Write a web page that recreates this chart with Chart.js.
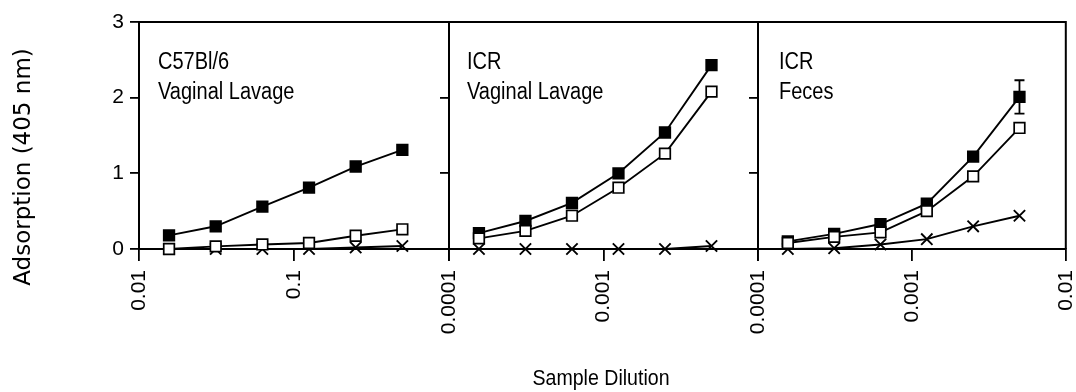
<!DOCTYPE html>
<html><head><meta charset="utf-8">
<script src="https://cdn.jsdelivr.net/npm/chart.js@4/dist/chart.umd.min.js"></script>
<style>
html,body{margin:0;padding:0;background:#fff;overflow:hidden;width:1076px;height:392px;position:relative;}
canvas{position:absolute;left:0;top:0;}
.lbl{position:absolute;font-family:'Liberation Sans',Arial,sans-serif;font-size:23px;line-height:30px;color:#000;white-space:nowrap;transform:scaleX(0.87);transform-origin:0 0;}
#xtitle{position:absolute;left:451px;top:366px;width:300px;text-align:center;font-family:'Liberation Sans',Arial,sans-serif;font-size:22px;line-height:24px;color:#000;transform:scaleX(0.89);}
#ytitle{position:absolute;left:-128px;top:155px;width:300px;text-align:center;font-family:'DejaVu Sans',sans-serif;font-size:23px;line-height:24px;color:#000;transform:rotate(-90deg);}
</style></head><body>
<canvas id="c1" width="1100" height="392"></canvas>
<canvas id="c2" width="1100" height="392"></canvas>
<canvas id="c3" width="1100" height="392"></canvas>
<div class="lbl" style="left:158px;top:46px;">C57Bl/6<br>Vaginal Lavage</div>
<div class="lbl" style="left:467px;top:46px;">ICR<br>Vaginal Lavage</div>
<div class="lbl" style="left:779px;top:46px;">ICR<br>Feces</div>
<div id="xtitle">Sample Dilution</div>
<div id="ytitle">Adsorption (405 nm)</div>
<script>
// ---- data ----
const dilutionLow = [1/64, 1/32, 1/16, 1/8, 1/4, 1/2];
const dilutionHigh = [1/6400, 1/3200, 1/1600, 1/800, 1/400, 1/200];

const c57LavageFilled = [0.18, 0.30, 0.56, 0.81, 1.09, 1.31];
const c57LavageOpen   = [0.00, 0.035, 0.06, 0.08, 0.175, 0.26];
const c57LavageCross  = [0.00, 0.00, 0.00, 0.00, 0.02, 0.04];

const icrLavageFilled = [0.21, 0.37, 0.61, 1.00, 1.54, 2.43];
const icrLavageOpen   = [0.14, 0.24, 0.44, 0.81, 1.26, 2.08];
const icrLavageCross  = [0.00, 0.00, 0.00, 0.00, 0.00, 0.04];

const icrFecesFilled = [0.10, 0.20, 0.33, 0.60, 1.22, 2.01];
const icrFecesOpen   = [0.08, 0.16, 0.22, 0.50, 0.96, 1.60];
const icrFecesCross  = [0.00, 0.01, 0.06, 0.13, 0.30, 0.44];
const icrFecesFilledErr = [0, 0, 0, 0, 0, 0.22];

const xTickValuesLow = [0.01, 0.1, 1];
const xTickLabelsLow = ['0.01', '0.1', ''];
const xTickValuesHigh = [0.0001, 0.001, 0.01];
const xTickLabelsPanel2 = ['0.0001', '0.001', ''];
const xTickLabelsPanel3 = ['0.0001', '0.001', '0.01'];
const yTickValues = [0, 1, 2, 3];

// ---- drawing ----
const FONT = "'Liberation Sans', Arial, sans-serif";
const CW = 1100;

const framePlugin = {
  id: 'frame',
  beforeDatasetsDraw(chart) {
    const {ctx, chartArea: a} = chart;
    ctx.save();
    ctx.strokeStyle = '#000';
    ctx.lineWidth = 2;
    ctx.beginPath();
    ctx.moveTo(a.left, a.top);
    ctx.lineTo(a.right, a.top);
    ctx.lineTo(a.right, a.bottom);
    ctx.stroke();
    ctx.restore();
  }
};

function errPlugin(dsIndex, vals, errs) {
  return {
    id: 'err' + dsIndex,
    beforeDatasetsDraw(chart) {
      if (!errs) return;
      const meta = chart.getDatasetMeta(dsIndex);
      const ys = chart.scales.y;
      const ctx = chart.ctx;
      ctx.save();
      ctx.strokeStyle = '#000';
      ctx.lineWidth = 1.8;
      errs.forEach((e, i) => {
        if (!e) return;
        const x = meta.data[i].x;
        const yt = ys.getPixelForValue(vals[i] + e);
        const yb = ys.getPixelForValue(vals[i] - e);
        ctx.beginPath();
        ctx.moveTo(x, yt); ctx.lineTo(x, yb);
        ctx.moveTo(x - 5, yt); ctx.lineTo(x + 5, yt);
        ctx.moveTo(x - 5, yb); ctx.lineTo(x + 5, yb);
        ctx.stroke();
      });
      ctx.restore();
    }
  };
}

function pts(xs, ys) { return xs.map((x, i) => ({x: x, y: ys[i]})); }

function makePanel(id, xs, filled, open, cross, tickValues, tickLabels, left, right, yWidth, showYLabels, errs) {
  const common = {borderColor: '#000', borderWidth: 1.9, tension: 0, clip: false, pointBorderColor: '#000', pointBorderWidth: 1.7};
  new Chart(document.getElementById(id), {
    type: 'line',
    data: {
      datasets: [
        Object.assign({}, common, {data: pts(xs, open), order: 0, pointStyle: 'rect', pointRadius: 7.5, pointBackgroundColor: '#fff', backgroundColor: '#fff'}),
        Object.assign({}, common, {data: pts(xs, filled), order: 1, pointStyle: 'rect', pointRadius: 7.5, pointBackgroundColor: '#000', backgroundColor: '#000'}),
        Object.assign({}, common, {data: pts(xs, cross), order: 2, pointStyle: 'crossRot', pointRadius: 8, pointBorderWidth: 1.9, pointBackgroundColor: '#000'})
      ]
    },
    options: {
      responsive: false,
      animation: false,
      events: [],
      layout: {padding: {left: left - yWidth, right: CW - right, top: 22, bottom: 0}},
      plugins: {legend: {display: false}, tooltip: {enabled: false}},
      scales: {
        x: {
          type: 'logarithmic',
          min: tickValues[0], max: tickValues[tickValues.length - 1],
          afterBuildTicks: s => { s.ticks = tickValues.map(v => ({value: v})); },
          afterFit: s => { s.height = 143; },
          grid: {drawOnChartArea: false, drawTicks: true, tickLength: 12, color: '#000', lineWidth: 1.8},
          border: {display: true, color: '#000', width: 2},
          ticks: {autoSkip: false, minRotation: 90, maxRotation: 90, padding: 9, color: '#000',
                  font: {family: FONT, size: 21}, callback: (v, i) => tickLabels[i]}
        },
        y: {
          min: 0, max: 3,
          afterBuildTicks: s => { s.ticks = yTickValues.map(v => ({value: v})); },
          afterFit: s => { s.width = yWidth; },
          grid: {drawOnChartArea: false, drawTicks: true, tickLength: 9, color: '#000', lineWidth: 1.8},
          border: {display: true, color: '#000', width: 2},
          ticks: {display: showYLabels, padding: 6, color: '#000', font: {family: FONT, size: 21},
                  callback: v => String(v)}
        }
      }
    },
    plugins: [framePlugin, errPlugin(1, filled, errs)]
  });
}

makePanel('c1', dilutionLow, c57LavageFilled, c57LavageOpen, c57LavageCross, xTickValuesLow, xTickLabelsLow, 139, 449, 139, true, null);
makePanel('c2', dilutionHigh, icrLavageFilled, icrLavageOpen, icrLavageCross, xTickValuesHigh, xTickLabelsPanel2, 449, 758, 9, false, null);
makePanel('c3', dilutionHigh, icrFecesFilled, icrFecesOpen, icrFecesCross, xTickValuesHigh, xTickLabelsPanel3, 758, 1068, 9, false, icrFecesFilledErr);
</script>
</body></html>
